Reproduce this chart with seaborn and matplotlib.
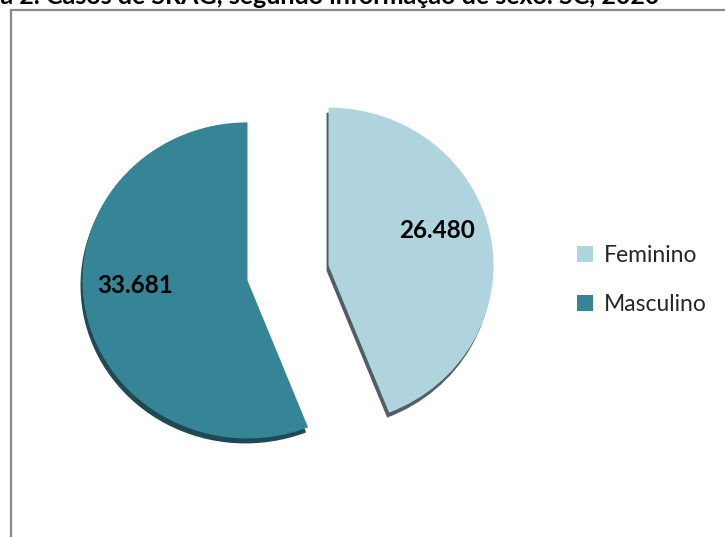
import matplotlib
matplotlib.use("Agg")
import matplotlib.pyplot as plt
import seaborn as sns
from matplotlib.patches import Rectangle

sns.set_theme(style="white")
plt.rcParams['font.family'] = ['Lato', 'DejaVu Sans']

categories = ["Feminino", "Masculino"]
values = [26480, 33681]
value_labels = ["26.480", "33.681"]
colors = ["#B0D4DE", "#358597"]
shadow_colors = ["#4F5F63", "#1E4A55"]
title_text = "Figura 2. Casos de SRAG, segundo informação de sexo. SC, 2020"

W, H = 725, 537
fig = plt.figure(figsize=(W / 100, H / 100), dpi=100)
fig.patch.set_facecolor("white")

# Outer frame (partially out of view)
fig.patches.append(Rectangle((11 / W, -0.2), 1.2, 1.2 - 10 / H,
                             transform=fig.transFigure, fill=False,
                             edgecolor="#8A8A8A", linewidth=1.6, zorder=0))

# Axes placed so the pie sits where the reference has it
cx, cy = 288, 273
sx, sy = 165, 158
ax_w, ax_h = 500, 500
ax = fig.add_axes([(cx - ax_w / 2) / W, (H - cy - ax_h / 2) / H, ax_w / W, ax_h / H])

explode = [0.25, 0.25]
# shadow layer
ax.pie(values, colors=shadow_colors, startangle=90, counterclock=False,
       explode=explode, center=(-0.012, -0.032), frame=True,
       wedgeprops=dict(linewidth=0))
wedges, texts, autotexts = ax.pie(
    values, colors=colors, startangle=90, counterclock=False,
    explode=explode, frame=True, labels=None,
    autopct=lambda p: "", pctdistance=0.68,
    wedgeprops=dict(linewidth=0))
for at, lab in zip(autotexts, value_labels):
    at.set_text(lab)
    at.set_fontsize(17.5)
    at.set_fontweight("bold")
    at.set_color("black")
    x, y = at.get_position()
    at.set_position((x - 2 / sx, y + 15 / sy))
ax.set_aspect("auto")
ax.set_xlim(-ax_w / 2 / sx, ax_w / 2 / sx)
ax.set_ylim(-ax_h / 2 / sy, ax_h / 2 / sy)
ax.axis("off")

# Legend
leg = fig.legend(wedges, categories, loc="center left",
                 bbox_to_anchor=(568 / W, 1 - 280 / H), frameon=False,
                 fontsize=16.5, handlelength=0.7, handleheight=0.7,
                 handletextpad=0.45, labelspacing=1.2, borderaxespad=0)

# Title, cut off at the top as in the reference
renderer = fig.canvas.get_renderer()
tmp = fig.text(0, 0, "Figur", fontsize=18, fontweight="bold")
wpx = tmp.get_window_extent(renderer).width
tmp.remove()
fig.text(-wpx / W, 1 - 4 / H, title_text, fontsize=18, fontweight="bold",
         ha="left", va="baseline", color="black")

fig.savefig("out.png", dpi=100, facecolor="white")
